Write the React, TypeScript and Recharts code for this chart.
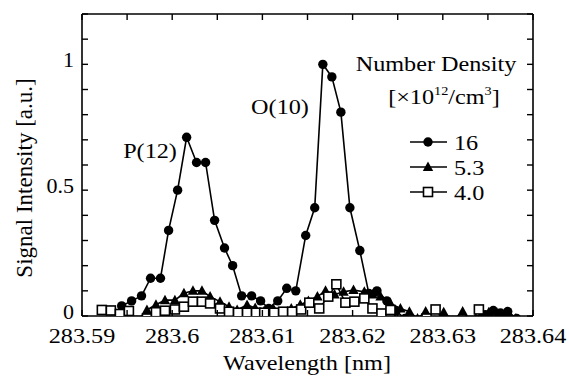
import React from 'react';
import { ComposedChart, Scatter, XAxis, YAxis, ReferenceLine } from 'recharts';

const xMajorTicks = [283.59, 283.6, 283.61, 283.62, 283.63, 283.64];
const xMinorTicks = [283.59, 283.595, 283.6, 283.605, 283.61, 283.615, 283.62, 283.625, 283.63, 283.635, 283.64];
const yMajorTicks = [0, 0.5, 1];
const yMinorTicks = [0, 0.1, 0.2, 0.3, 0.4, 0.5, 0.6, 0.7, 0.8, 0.9, 1.0, 1.1, 1.2];

// Number density 16 x10^12 /cm^3 (filled circles)
const wl16 = [283.5944, 283.5955, 283.5966, 283.5976, 283.5987, 283.5996, 283.6006, 283.6016, 283.6027, 283.6037, 283.6047, 283.6058, 283.6067, 283.6077, 283.6088, 283.6098, 283.6107, 283.6117, 283.6127, 283.6137, 283.6148, 283.6158, 283.6167, 283.6177, 283.6187, 283.6197, 283.6208, 283.6218, 283.6227, 283.6238, 283.6248, 283.6258, 283.6268, 283.6278, 283.6288, 283.6298, 283.6308, 283.6318, 283.6328, 283.6338, 283.6347, 283.6356, 283.6364, 283.6372, 283.6382];
const sig16 = [0.04, 0.06, 0.08, 0.15, 0.15, 0.34, 0.5, 0.71, 0.61, 0.61, 0.38, 0.27, 0.2, 0.08, 0.08, 0.06, 0.03, 0.06, 0.11, 0.1, 0.32, 0.43, 1.0, 0.95, 0.81, 0.43, 0.26, 0.09, 0.1, 0.06, 0.02, -0.01, -0.02, -0.02, -0.02, -0.02, -0.02, -0.02, -0.02, -0.015, 0.005, 0.022, 0.012, 0.018, -0.01];

// Number density 5.3 (filled triangles)
const wl53 = [283.5951, 283.5961, 283.5972, 283.5982, 283.5992, 283.6003, 283.6013, 283.6023, 283.6033, 283.6042, 283.6053, 283.6063, 283.6072, 283.6083, 283.6092, 283.6102, 283.6112, 283.6122, 283.6132, 283.6142, 283.6151, 283.6161, 283.617, 283.618, 283.619, 283.6201, 283.6213, 283.6222, 283.6231, 283.6242, 283.6253, 283.6263, 283.6272, 283.6281, 283.6291, 283.6301, 283.6311, 283.6322, 283.6331, 283.6341, 283.6351, 283.6361, 283.6372, 283.6381];
const sig53 = [-0.02, -0.02, 0.024, 0.045, 0.063, 0.063, 0.09, 0.1, 0.1, 0.077, 0.057, 0.037, 0.024, 0.044, 0.032, 0.02, 0.03, 0.015, 0.03, 0.045, 0.06, 0.077, 0.1, 0.085, 0.096, 0.103, 0.096, 0.085, 0.077, 0.05, 0.03, 0.017, -0.01, 0.018, -0.02, 0.015, -0.02, 0.018, -0.02, -0.005, 0.015, 0.01, 0.015, -0.01];

// Number density 4.0 (open squares)
const wl40 = [283.5922, 283.5932, 283.5942, 283.5952, 283.5962, 283.5972, 283.5982, 283.5992, 283.6003, 283.6013, 283.6023, 283.6033, 283.6042, 283.6053, 283.6063, 283.6073, 283.6083, 283.6093, 283.6102, 283.6113, 283.6123, 283.6133, 283.6143, 283.6152, 283.6163, 283.6173, 283.6182, 283.6192, 283.6202, 283.6213, 283.6222, 283.6232, 283.6242, 283.6252, 283.6262, 283.6272, 283.6282, 283.6292, 283.6302, 283.6312, 283.6322, 283.6332, 283.634, 283.635];
const sig40 = [0.024, 0.022, 0.008, 0.02, -0.02, -0.01, 0.015, 0.021, 0.026, 0.037, 0.057, 0.057, 0.05, 0.03, 0.017, 0.013, 0.013, 0.013, 0.013, 0.013, 0.017, 0.017, 0.026, 0.053, 0.03, 0.077, 0.126, 0.053, 0.057, 0.07, 0.03, 0.01, 0.024, -0.02, -0.02, -0.02, -0.01, 0.026, -0.02, -0.02, -0.02, -0.02, 0.026, -0.02];

const legendLabels = ['16', '5.3', '4.0'];

const toPoints = (xs: number[], ys: number[]) => xs.map((x, i) => ({ x, y: ys[i] }));
const data16 = toPoints(wl16, sig16);
const data53 = toPoints(wl53, sig53);
const data40 = toPoints(wl40, sig40);

const FONT = '"Liberation Serif", "Times New Roman", serif';
const W = 569;
const H = 376;
const X_AXIS_H = 30;
const Y_AXIS_W = 82;
const margin = { top: 14, right: 36, bottom: 30, left: 0 };
const PLOT = {
  left: margin.left + Y_AXIS_W,
  right: W - margin.right,
  top: margin.top,
  bottom: H - margin.bottom - X_AXIS_H,
};
const TICK_LEN = 6;

const fmtX = (v: number) => String(parseFloat(v.toFixed(4)));
const isIn = (arr: number[], v: number) => arr.some((t) => Math.abs(t - v) < 1e-7);

const BottomTick = (props: any) => {
  const { x, payload } = props;
  const v = payload.value;
  return (
    <g>
      <line x1={x} x2={x} y1={PLOT.bottom} y2={PLOT.bottom - TICK_LEN} stroke="#000" strokeWidth={1.4} />
      <line x1={x} x2={x} y1={PLOT.top} y2={PLOT.top + TICK_LEN} stroke="#000" strokeWidth={1.4} />
      {isIn(xMajorTicks, v) && (
        <text transform={`translate(${x},${PLOT.bottom + 27}) scale(1.1,1)`} x={0} y={0} textAnchor="middle" fontSize={22} fontFamily={FONT} fill="#000">
          {fmtX(v)}
        </text>
      )}
    </g>
  );
};

const LeftTick = (props: any) => {
  const { y, payload } = props;
  const v = payload.value;
  return (
    <g>
      <line x1={PLOT.left} x2={PLOT.left + TICK_LEN} y1={y} y2={y} stroke="#000" strokeWidth={1.4} />
      <line x1={PLOT.right} x2={PLOT.right - TICK_LEN} y1={y} y2={y} stroke="#000" strokeWidth={1.4} />
      {isIn(yMajorTicks, v) && (
        <text x={PLOT.left - 8} y={y + 3} textAnchor="end" fontSize={22} fontFamily={FONT} fill="#000">
          {String(v)}
        </text>
      )}
    </g>
  );
};

const Dot = (p: any) => <circle cx={p.cx} cy={p.cy} r={4.7} fill="#000" />;
const Tri = (p: any) => (
  <polygon points={`${p.cx},${p.cy - 5.5} ${p.cx + 5.2},${p.cy + 4} ${p.cx - 5.2},${p.cy + 4}`} fill="#000" />
);
const Sq = (p: any) => (
  <rect x={p.cx - 4.5} y={p.cy - 4.5} width={9} height={9} fill="#fff" stroke="#000" strokeWidth={1.6} />
);

const HText = ({ x, y, children, anchor = 'middle', size = 22 }: any) => (
  <text transform={`translate(${x},${y}) scale(1.1,1)`} x={0} y={0} textAnchor={anchor} fontSize={size} fontFamily={FONT} fill="#000">
    {children}
  </text>
);

const LegendRow = ({ y, kind, label }: any) => {
  const cx = 428;
  return (
    <g>
      <line x1={410} x2={447} y1={y} y2={y} stroke="#000" strokeWidth={1.6} />
      {kind === 0 && <Dot cx={cx} cy={y} />}
      {kind === 1 && <Tri cx={cx} cy={y} />}
      {kind === 2 && <Sq cx={cx} cy={y} />}
      <HText x={454} y={y + 7.5} anchor="start">{label}</HText>
    </g>
  );
};

const axisLine = { stroke: '#000', strokeWidth: 1.6 };
const seriesLine = { stroke: '#000', strokeWidth: 1.6 };

export default function App() {
  return (
    <div style={{ position: 'absolute', left: 0, top: 0, width: W, height: H, background: '#fff' }}>
      <ComposedChart width={W} height={H} margin={margin}>
        <XAxis xAxisId="b" type="number" dataKey="x" domain={[283.59, 283.64]} allowDataOverflow ticks={xMinorTicks} interval={0} tick={<BottomTick />} tickLine={false} axisLine={axisLine} height={X_AXIS_H} />
        <YAxis yAxisId="l" type="number" dataKey="y" domain={[0, 1.2]} allowDataOverflow ticks={yMinorTicks} interval={0} tick={<LeftTick />} tickLine={false} axisLine={axisLine} width={Y_AXIS_W} />

        <ReferenceLine xAxisId="b" yAxisId="l" y={1.2} stroke="#000" strokeWidth={1.6} />
        <ReferenceLine xAxisId="b" yAxisId="l" x={283.64} stroke="#000" strokeWidth={1.6} />

        <Scatter xAxisId="b" yAxisId="l" name="16" data={data16} shape={<Dot />} line={seriesLine} lineType="joint" isAnimationActive={false} />
        <Scatter xAxisId="b" yAxisId="l" name="5.3" data={data53} shape={<Tri />} line={seriesLine} lineType="joint" isAnimationActive={false} />
        <Scatter xAxisId="b" yAxisId="l" name="4.0" data={data40} shape={<Sq />} line={seriesLine} lineType="joint" isAnimationActive={false} />

        <text transform="translate(24,178) rotate(-90)" x={0} y={0} textAnchor="middle" dominantBaseline="central" fontSize={23} fontFamily={FONT} fill="#000">
          Signal Intensity [a.u.]
        </text>
        <HText x={307} y={370}>Wavelength [nm]</HText>
        <HText x={150} y={158}>P(12)</HText>
        <HText x={280} y={114}>O(10)</HText>
        <HText x={436} y={71}>Number Density</HText>
        <text transform="translate(444,104) scale(1.1,1)" x={0} y={0} textAnchor="middle" fontSize={22} fontFamily={FONT} fill="#000">
          [×10<tspan fontSize={13} dy={-9}>12</tspan><tspan dy={9}>/cm</tspan><tspan fontSize={13} dy={-9}>3</tspan><tspan dy={9}>]</tspan>
        </text>
        {legendLabels.map((lab, i) => (
          <LegendRow key={lab} y={142 + 25 * i} kind={i} label={lab} />
        ))}
      </ComposedChart>
    </div>
  );
}
